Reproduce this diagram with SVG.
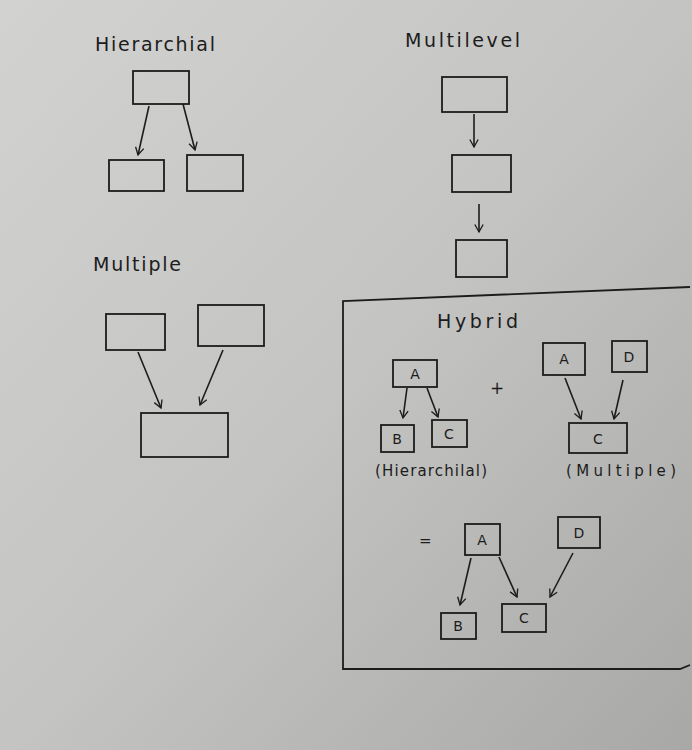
<svg xmlns="http://www.w3.org/2000/svg" width="692" height="750" viewBox="0 0 692 750">
<defs>
<linearGradient id="paper" x1="0" y1="0" x2="1" y2="1">
<stop offset="0" stop-color="#d2d2d0"/>
<stop offset="0.5" stop-color="#c4c4c2"/>
<stop offset="1" stop-color="#a8a8a6"/>
</linearGradient>
<marker id="v" viewBox="0 0 12 12" refX="10" refY="6" markerWidth="10" markerHeight="10" markerUnits="userSpaceOnUse" orient="auto">
<path d="M1,1 L10,6 L1,11" fill="none" stroke="#1c1c1c" stroke-width="1.6"/>
</marker>
<style>
.b{fill:none;stroke:#1c1c1c;stroke-width:1.8}
.c{fill:none;stroke:#1c1c1c;stroke-width:1.6;marker-end:url(#v)}
.t{font-family:"DejaVu Sans","Liberation Sans",sans-serif;fill:#1c1c1c}
.h{font-size:19px}
.l{font-size:14px;text-anchor:middle}
.s{font-size:15px}
</style>
</defs>
<rect width="692" height="750" fill="url(#paper)"/>

<!-- Hierarchial -->
<text class="t h" x="95" y="51" textLength="120" lengthAdjust="spacing">Hierarchial</text>
<g id="h-top"><rect class="b" x="133" y="71" width="56" height="33"/></g>
<g id="h-left"><rect class="b" x="109" y="160" width="55" height="31"/></g>
<g id="h-right"><rect class="b" x="187" y="155" width="56" height="36"/></g>

<!-- Multilevel -->
<text class="t h" x="405" y="47" textLength="115" lengthAdjust="spacing">Multilevel</text>
<g id="m-1"><rect class="b" x="442" y="77" width="65" height="35"/></g>
<g id="m-2"><rect class="b" x="452" y="155" width="59" height="37"/></g>
<g id="m-3"><rect class="b" x="456" y="240" width="51" height="37"/></g>

<!-- Multiple -->
<text class="t h" x="93" y="271" textLength="88" lengthAdjust="spacing">Multiple</text>
<g id="mp-1"><rect class="b" x="106" y="314" width="59" height="36"/></g>
<g id="mp-2"><rect class="b" x="198" y="305" width="66" height="41"/></g>
<g id="mp-3"><rect class="b" x="141" y="413" width="87" height="44"/></g>

<!-- Hybrid frame -->
<path class="b" d="M690,287 L343,301 L343,669 L680,669 L690,665"/>
<text class="t h" x="437" y="328" textLength="81" lengthAdjust="spacing">Hybrid</text>

<g id="hy-a"><rect class="b" x="393" y="360" width="44" height="27"/><text class="t l" x="415" y="379">A</text></g>
<g id="hy-b"><rect class="b" x="381" y="425" width="33" height="27"/><text class="t l" x="397" y="444">B</text></g>
<g id="hy-c"><rect class="b" x="432" y="420" width="35" height="27"/><text class="t l" x="449" y="439">C</text></g>
<text class="t" x="490" y="394" font-size="17">+</text>
<text class="t s" x="375" y="476" textLength="112" lengthAdjust="spacing">(Hierarchilal)</text>

<g id="mu-a"><rect class="b" x="543" y="343" width="42" height="32"/><text class="t l" x="564" y="364">A</text></g>
<g id="mu-d"><rect class="b" x="612" y="341" width="35" height="31"/><text class="t l" x="629" y="362">D</text></g>
<g id="mu-c"><rect class="b" x="569" y="423" width="58" height="30"/><text class="t l" x="598" y="444">C</text></g>
<text class="t s" x="566" y="476" textLength="110" lengthAdjust="spacing">(Multiple)</text>

<text class="t" x="419" y="546" font-size="15">=</text>
<g id="r-a"><rect class="b" x="465" y="524" width="35" height="31"/><text class="t l" x="482" y="545">A</text></g>
<g id="r-d"><rect class="b" x="558" y="517" width="42" height="31"/><text class="t l" x="579" y="538">D</text></g>
<g id="r-b"><rect class="b" x="441" y="613" width="35" height="26"/><text class="t l" x="458" y="631">B</text></g>
<g id="r-c"><rect class="b" x="502" y="604" width="44" height="28"/><text class="t l" x="524" y="623">C</text></g>

<g id="connectors">
<path class="c" d="M149,106 L138,155"/>
<path class="c" d="M183,104 L195,150"/>
<path class="c" d="M474,114 L474,147"/>
<path class="c" d="M479,204 L479,232"/>
<path class="c" d="M138,352 L161,408"/>
<path class="c" d="M223,350 L200,405"/>
<path class="c" d="M407,388 L403,418"/>
<path class="c" d="M427,388 L438,417"/>
<path class="c" d="M565,378 L581,419"/>
<path class="c" d="M623,380 L614,419"/>
<path class="c" d="M471,558 L460,605"/>
<path class="c" d="M499,557 L517,597"/>
<path class="c" d="M573,553 L550,597"/>
</g>
</svg>
